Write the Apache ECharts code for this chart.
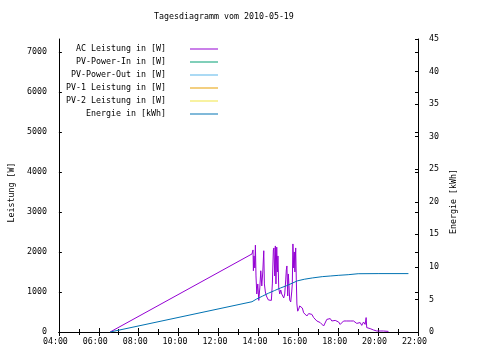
<!DOCTYPE html>
<html>
<head>
<meta charset="utf-8">
<script src="https://cdn.jsdelivr.net/npm/echarts@6/dist/echarts.min.js"></script>
<style>html,body{margin:0;padding:0;background:#fff}#c{width:480px;height:360px}</style>
</head>
<body>
<div id="c"></div>
<script>
var titleText = 'Tagesdiagramm vom 2010-05-19';
var seriesNames = ['AC Leistung in [W]', 'PV-Power-In in [W]', 'PV-Power-Out in [W]', 'PV-1 Leistung in [W]', 'PV-2 Leistung in [W]', 'Energie in [kWh]'];
var seriesColors = ['#9400D3', '#009E73', '#56B4E9', '#E69F00', '#F0E442', '#0072B2'];

// time in hours of day
var acTime = [6.57, 13.68, 13.73, 13.75, 13.78, 13.82, 13.85, 13.88, 13.92, 13.97, 14.02, 14.07, 14.12, 14.17, 14.22, 14.27, 14.30, 14.35, 14.40, 14.45, 14.50, 14.55, 14.60, 14.65, 14.70, 14.75, 14.78, 14.82, 14.85, 14.88, 14.92, 14.95, 14.98, 15.02, 15.07, 15.12, 15.17, 15.22, 15.27, 15.32, 15.37, 15.40, 15.43, 15.47, 15.50, 15.53, 15.57, 15.62, 15.67, 15.70, 15.73, 15.77, 15.80, 15.83, 15.87, 15.90, 15.93, 15.97, 16.02, 16.07, 16.13, 16.20, 16.27, 16.35, 16.43, 16.52, 16.60, 16.68, 16.77, 16.85, 16.93, 17.02, 17.10, 17.18, 17.27, 17.35, 17.43, 17.52, 17.60, 17.68, 17.77, 17.85, 17.93, 18.02, 18.10, 18.18, 18.27, 18.35, 18.43, 18.52, 18.60, 18.68, 18.77, 18.85, 18.93, 19.02, 19.10, 19.18, 19.27, 19.35, 19.40, 19.43, 19.52, 19.60, 19.77, 19.93, 20.10, 20.27, 20.52];
var acPower = [0, 1950, 2050, 1530, 1900, 1600, 2170, 1400, 950, 1200, 790, 1100, 1530, 1150, 1500, 2030, 1200, 1000, 900, 850, 800, 820, 770, 790, 1200, 2050, 2100, 1400, 2150, 1200, 2120, 1500, 1900, 1100, 950, 1050, 950, 900, 850, 950, 1300, 1550, 1650, 900, 1450, 1200, 800, 750, 1000, 1200, 2200, 1600, 2000, 1500, 2100, 1300, 700, 520, 570, 650, 690, 600, 480, 440, 400, 460, 480, 440, 360, 320, 275, 250, 235, 190, 150, 190, 315, 360, 335, 275, 315, 290, 315, 250, 190, 235, 275, 260, 275, 250, 275, 235, 275, 250, 215, 190, 235, 165, 250, 190, 360, 110, 85, 85, 50, 25, 25, 25, 15];

var enTime = [6.57, 13.68, 13.9, 14.2, 14.5, 14.8, 15.1, 15.4, 15.7, 15.95, 16.3, 16.7, 17.2, 17.6, 18.0, 18.5, 19.0, 20.0, 21.52];
var enValue = [0, 4.65, 5.05, 5.5, 5.95, 6.35, 6.75, 7.1, 7.5, 7.85, 8.1, 8.3, 8.5, 8.6, 8.7, 8.8, 8.95, 8.97, 8.97];

function zip(a, b) { var r = []; for (var i = 0; i < a.length; i++) r.push([a[i], b[i]]); return r; }

var FONT = 'DejaVu Sans Mono';
var FS = 8.3;
var legendTops = [49, 62, 75, 88, 101, 114];

var chart = echarts.init(document.getElementById('c'), null, {renderer: 'canvas'});

var legends = seriesNames.map(function (n, i) {
  return {
    data: [n], orient: 'vertical', right: 262, top: legendTops[i] - 5,
    align: 'right', padding: 0, icon: 'rect', itemWidth: 28, itemHeight: 1,
    selectedMode: false,
    textStyle: {fontFamily: FONT, fontSize: FS, color: '#000', lineHeight: 10, padding: [0, 19, 0, 0]}
  };
});

var tickStyle = {color: '#000', width: 1};
var series = seriesNames.map(function (n, i) {
  var d = [];
  if (i === 0) d = zip(acTime, acPower);
  if (i === 5) d = zip(enTime, enValue);
  return {
    name: n, type: 'line', data: d, yAxisIndex: i === 5 ? 1 : 0,
    showSymbol: false, symbol: 'none', smooth: false,
    lineStyle: {color: seriesColors[i], width: 1},
    itemStyle: {color: seriesColors[i]},
    emphasis: {disabled: true}
  };
});

chart.setOption({
  animation: false,
  backgroundColor: '#fff',
  title: {text: titleText, left: 154, top: 13, padding: 0,
    textStyle: {fontFamily: FONT, fontSize: FS, fontWeight: 'normal', color: '#000'}},
  legend: legends,
  grid: {left: 58, right: 62, top: 39, bottom: 28, containLabel: false},
  xAxis: [{
    type: 'value', min: 4, max: 22, interval: 2, position: 'bottom',
    axisLine: {show: true, lineStyle: {color: '#000'}},
    axisTick: {show: true, inside: true, length: 4, lineStyle: tickStyle},
    minorTick: {show: true, splitNumber: 2, length: 3, lineStyle: tickStyle},
    splitLine: {show: false},
    axisLabel: {fontFamily: FONT, fontSize: FS, color: '#000', margin: 6, padding: [0, 7, 0, 0],
      formatter: function (v) { return (v < 10 ? '0' : '') + v + ':00'; }}
  }, {
    type: 'value', min: 4, max: 22, interval: 2, position: 'top',
    axisLine: {show: true, lineStyle: {color: '#000'}},
    axisTick: {show: true, inside: true, length: 4, lineStyle: tickStyle},
    minorTick: {show: true, splitNumber: 2, length: 3, lineStyle: tickStyle},
    splitLine: {show: false}, axisLabel: {show: false}
  }],
  yAxis: [{
    type: 'value', min: 0, max: 7320, interval: 1000, position: 'left',
    name: 'Leistung [W]', nameLocation: 'middle', nameGap: 42, nameRotate: 90,
    nameTextStyle: {fontFamily: FONT, fontSize: FS, color: '#000', padding: [0, 14, 0, 0]},
    axisLine: {show: true, lineStyle: {color: '#000'}},
    axisTick: {show: true, inside: true, length: 3, lineStyle: tickStyle},
    splitLine: {show: false},
    axisLabel: {fontFamily: FONT, fontSize: FS, color: '#000', margin: 12, showMaxLabel: false,
      padding: [0, 0, 4, 0],
      formatter: function (v) { return v % 1000 === 0 ? String(v) : ''; }}
  }, {
    type: 'value', min: 0, max: 45, interval: 5, position: 'right',
    name: 'Energie [kWh]', nameLocation: 'middle', nameGap: 30, nameRotate: 90,
    nameTextStyle: {fontFamily: FONT, fontSize: FS, color: '#000', padding: [0, 32, 0, 0]},
    axisLine: {show: true, lineStyle: {color: '#000'}},
    axisTick: {show: true, inside: true, length: 3, lineStyle: tickStyle},
    splitLine: {show: false},
    axisLabel: {fontFamily: FONT, fontSize: FS, color: '#000', margin: 11, padding: [0, 0, 3, 0]}
  }, {
    type: 'value', min: 0, max: 7320, interval: 1000, position: 'right',
    axisLine: {show: false},
    axisTick: {show: true, inside: true, length: 3, lineStyle: tickStyle},
    splitLine: {show: false}, axisLabel: {show: false}
  }],
  series: series
});
</script>
</body>
</html>
